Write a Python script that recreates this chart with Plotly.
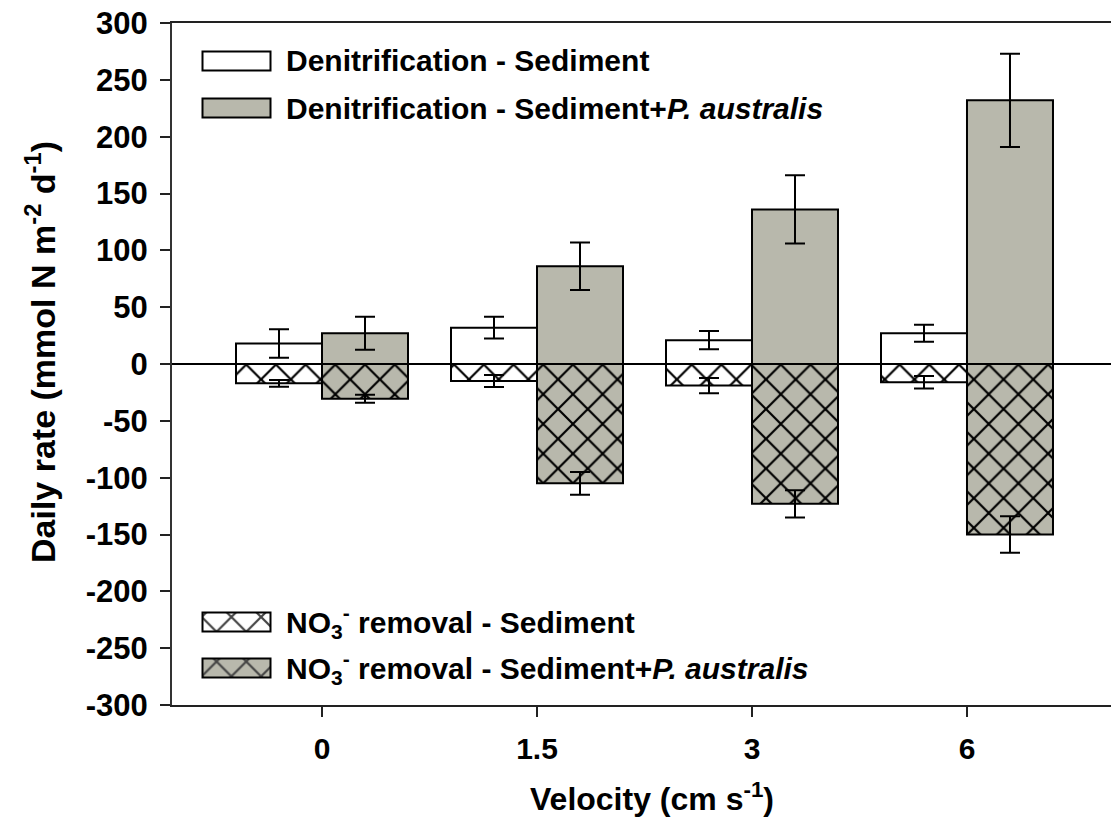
import plotly.graph_objects as go

# ---------------- data ----------------
velocity_labels = ["0", "1.5", "3", "6"]
cat_pos = [0, 1, 2, 3]

den_sed = [18, 32, 21, 27]
den_sed_err = [12.5, 9.5, 8, 7.5]
den_plant = [27, 86, 136, 232]
den_plant_err = [14.5, 21, 30, 41]

no3_sed = [-17, -15, -19, -16]
no3_sed_err = [3, 5.3, 6.7, 5.5]
no3_plant = [-30.5, -105, -123, -150]
no3_plant_err = [3.5, 10, 12, 16]

y_ticks = [300, 250, 200, 150, 100, 50, 0, -50, -100, -150, -200, -250, -300]
y_tick_text = [str(v) for v in y_ticks]

legend_labels = [
    "Denitrification - Sediment",
    "Denitrification - Sediment+<i>P. australis</i>",
    "NO<sub>3</sub><sup>-</sup> removal - Sediment",
    "NO<sub>3</sub><sup>-</sup> removal - Sediment+<i>P. australis</i>",
]

# ---------------- styling ----------------
W, H = 1111, 829
L, R, T, B = 172, 1111, 23, 705  # plot area in pixels
GRAY = "#b8b8ac"
FONT = "Liberation Sans"
HATCH_SIZE = 21
HATCH_SOLID = 0.2


def px_x(px):
    return (px - L) / (R - L)


def px_y(py):
    return (B - py) / (B - T)


def pattern(hatched, bg):
    if hatched:
        return dict(shape="x", fgcolor="black", fgopacity=1, bgcolor=bg,
                    size=HATCH_SIZE, solidity=HATCH_SOLID)
    return dict(shape="")


fig = go.Figure()

series = [
    (den_sed, den_sed_err, "white", False, "sed"),
    (den_plant, den_plant_err, GRAY, False, "plant"),
    (no3_sed, no3_sed_err, "white", True, "sed"),
    (no3_plant, no3_plant_err, GRAY, True, "plant"),
]
for vals, errs, col, hatch, grp in series:
    fig.add_trace(go.Bar(
        x=cat_pos, y=vals, offsetgroup=grp,
        marker=dict(color=col, line=dict(color="black", width=2),
                    pattern=pattern(hatch, col)),
        error_y=dict(type="data", array=errs, visible=True, color="black",
                     thickness=2, width=10),
        showlegend=False,
    ))

# legend swatches drawn on a pixel-scaled overlay axis
sw_x = 236.5
sw_w = 68
sw_h = 19
sw_rows = [61, 108, 622, 668]
sw_cols = ["white", GRAY, "white", GRAY]
sw_hatch = [False, False, True, True]
fig.add_trace(go.Bar(
    x=[sw_x] * 4, y=[sw_h] * 4, base=[r - sw_h / 2 for r in sw_rows],
    width=[sw_w] * 4, xaxis="x2", yaxis="y2",
    marker=dict(color=sw_cols, line=dict(color="black", width=2),
                pattern=dict(shape=["x" if h else "" for h in sw_hatch],
                             fgcolor="black", fgopacity=1, bgcolor=sw_cols,
                             size=HATCH_SIZE, solidity=HATCH_SOLID)),
    showlegend=False, hoverinfo="skip",
))

for lab, r in zip(legend_labels, sw_rows):
    fig.add_annotation(x=px_x(284), y=px_y(r), xref="paper", yref="paper",
                       text=lab, showarrow=False, xanchor="left", yanchor="middle",
                       font=dict(family=FONT, size=30, color="black", weight="bold"))

# axis titles
fig.add_annotation(x=px_x(652), y=px_y(797), xref="paper", yref="paper",
                   text="Velocity (cm s<sup>-1</sup>)", showarrow=False,
                   xanchor="center", yanchor="middle",
                   font=dict(family=FONT, size=32, color="black", weight="bold"))
fig.add_annotation(x=px_x(40), y=px_y(352), xref="paper", yref="paper",
                   text="Daily rate (mmol N m<sup>-2</sup> d<sup>-1</sup>)", showarrow=False,
                   textangle=-90, xanchor="center", yanchor="middle",
                   font=dict(family=FONT, size=34, color="black", weight="bold"))

fig.update_layout(
    width=W, height=H,
    margin=dict(l=L, r=W - R, t=T, b=H - B, autoexpand=False),
    paper_bgcolor="white", plot_bgcolor="white",
    barmode="group", bargap=0.2, bargroupgap=0,
    xaxis=dict(range=[-0.6977, 3.6698], tickvals=cat_pos, ticktext=velocity_labels,
               showline=True, linecolor="#222", linewidth=2, mirror=True,
               ticks="outside", ticklen=10, tickwidth=1.5, tickcolor="#222",
               showgrid=False, zeroline=False, ticklabelstandoff=6,
               tickfont=dict(family=FONT, size=30, color="black", weight="bold")),
    yaxis=dict(range=[-300, 300], tickvals=y_ticks, ticktext=y_tick_text,
               showline=True, linecolor="#333", linewidth=2,
               ticks="outside", ticklen=10, tickwidth=1.5, tickcolor="#222",
               showgrid=False, zeroline=True, zerolinecolor="black", zerolinewidth=1.5,
               ticklabelstandoff=6,
               tickfont=dict(family=FONT, size=31, color="black", weight="bold")),
    xaxis2=dict(range=[L, R], overlaying="x", visible=False, fixedrange=True),
    yaxis2=dict(range=[B, T], overlaying="y", visible=False, fixedrange=True),
)

fig.write_html("out.html")
